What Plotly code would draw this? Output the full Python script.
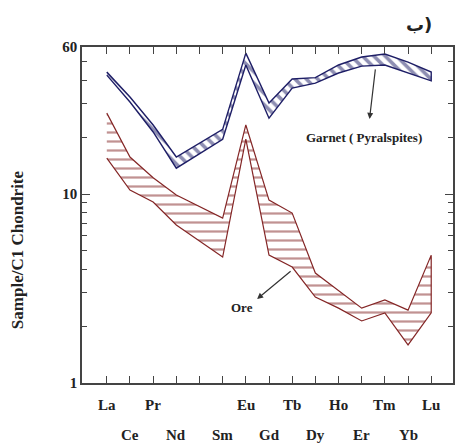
import math
import plotly.graph_objects as go

# ---- data ----
elements = ["La", "Ce", "Pr", "Nd", "Pm", "Sm", "Eu", "Gd", "Tb", "Dy", "Ho", "Er", "Tm", "Yb", "Lu"]
label_row = [0, 1, 0, 1, 0, 1, 0, 1, 0, 1, 0, 1, 0, 1, 0]
shown = [True, True, True, True, False, True, True, True, True, True, True, True, True, True, True]

garnet_upper = [44.2, 32.6, 23.2, 15.7, None, 22.0, 55.7, 30.3, 40.6, 41.3, 48.2, 53.1, 55.1, 49.9, 44.2]
garnet_lower = [42.6, 30.7, 21.3, 13.7, None, 19.5, 48.2, 25.2, 36.4, 38.6, 43.7, 47.5, 48.2, 43.7, 39.7]

ore_upper = [26.8, 15.7, 12.2, 9.88, None, 7.46, 23.2, 9.29, 7.93, 3.82, 3.10, 2.49, 2.75, 2.43, 4.75]
ore_lower = [15.5, 10.5, 9.07, 6.86, None, 4.64, 19.5, 4.75, 4.11, 2.85, 2.49, 2.13, 2.35, 1.59, 2.35]

y_tick_vals = [1, 10, 60]
y_minor_vals = [2, 3, 4, 5, 6, 7, 8, 9, 20, 30, 40, 50]

garnet_color = "#1e1e66"
ore_color = "#842626"
serif = "Liberation Serif"


def band(upper, lower):
    idx = [i for i in range(len(elements)) if upper[i] is not None]
    xs = idx + idx[::-1]
    ys = [upper[i] for i in idx] + [lower[i] for i in idx[::-1]]
    return xs, ys


fig = go.Figure()

gx, gy = band(garnet_upper, garnet_lower)
fig.add_trace(go.Scatter(
    x=gx, y=gy, mode="lines", fill="toself",
    line=dict(color=garnet_color, width=1.4),
    fillcolor="rgba(0,0,0,0)",
    fillpattern=dict(shape="\\", fgcolor=garnet_color, bgcolor="white", size=8, solidity=0.45),
    hoverinfo="skip", showlegend=False))

ox, oy = band(ore_upper, ore_lower)
fig.add_trace(go.Scatter(
    x=ox, y=oy, mode="lines", fill="toself",
    line=dict(color=ore_color, width=1.2),
    fillcolor="rgba(0,0,0,0)",
    fillpattern=dict(shape="-", fgcolor=ore_color, bgcolor="white", size=9, solidity=0.25),
    hoverinfo="skip", showlegend=False))

annotations = []
for i, el in enumerate(elements):
    if not shown[i]:
        continue
    annotations.append(dict(
        x=i, y=0, xref="x", yref="paper", text=el, showarrow=False,
        xanchor="center", yanchor="middle", yshift=-22 if label_row[i] == 0 else -52,
        font=dict(family=serif, size=15, color="#222", weight="bold")))

annotations += [
    dict(x=-0.172, y=0.396, xref="paper", yref="paper", text="Sample/C1 Chondrite",
         textangle=-90, showarrow=False, xanchor="center", yanchor="middle",
         font=dict(family=serif, size=17, color="#222", weight="bold")),
    dict(x=0.909, y=1.068, xref="paper", yref="paper", text="ب)", showarrow=False,
         xanchor="center", yanchor="middle",
         font=dict(family="DejaVu Sans", size=18, color="#222", weight="bold")),
    dict(x=0.76, y=0.732, xref="paper", yref="paper", text="Garnet ( Pyralspites)",
         showarrow=False, xanchor="center", yanchor="middle",
         font=dict(family=serif, size=13, color="#222", weight="bold")),
    dict(x=0.775, y=0.786, xref="paper", yref="paper", text="", showarrow=True,
         ax=6, ay=-51, axref="pixel", ayref="pixel", arrowhead=2, arrowsize=1,
         arrowwidth=1.2, arrowcolor="#333"),
    dict(x=0.43, y=0.226, xref="paper", yref="paper", text="Ore",
         showarrow=False, xanchor="center", yanchor="middle",
         font=dict(family=serif, size=13, color="#222", weight="bold")),
    dict(x=0.472, y=0.25, xref="paper", yref="paper", text="", showarrow=True,
         ax=35, ay=-29, axref="pixel", ayref="pixel", arrowhead=2, arrowsize=1,
         arrowwidth=1.2, arrowcolor="#333"),
]

fig.update_layout(
    width=457, height=443,
    margin=dict(l=82, r=2, t=47, b=60),
    paper_bgcolor="white", plot_bgcolor="white",
    annotations=annotations,
    xaxis=dict(range=[-1.07, 14.94], tickvals=list(range(len(elements))),
               ticktext=["" for _ in elements], ticks="inside", ticklen=7,
               tickcolor="#444", tickwidth=1.2, showgrid=False, zeroline=False,
               showline=True, linecolor="#444", linewidth=1.5, mirror="ticks"),
    yaxis=dict(type="log", range=[0, math.log10(60)], tickvals=y_tick_vals,
               ticktext=[str(v) for v in y_tick_vals], ticks="inside", ticklen=8,
               tickcolor="#444", tickwidth=1.2, showgrid=False, zeroline=False,
               showline=True, linecolor="#444", linewidth=1.5, mirror="allticks",
               tickfont=dict(family=serif, size=15, color="#222", weight="bold"),
               minor=dict(tickvals=y_minor_vals, ticks="inside", ticklen=5,
                          tickcolor="#444", showgrid=False)),
)

fig.write_html("out.html", config={"displayModeBar": False},
               post_script="document.body.style.margin='0';document.body.style.overflow='hidden';")
